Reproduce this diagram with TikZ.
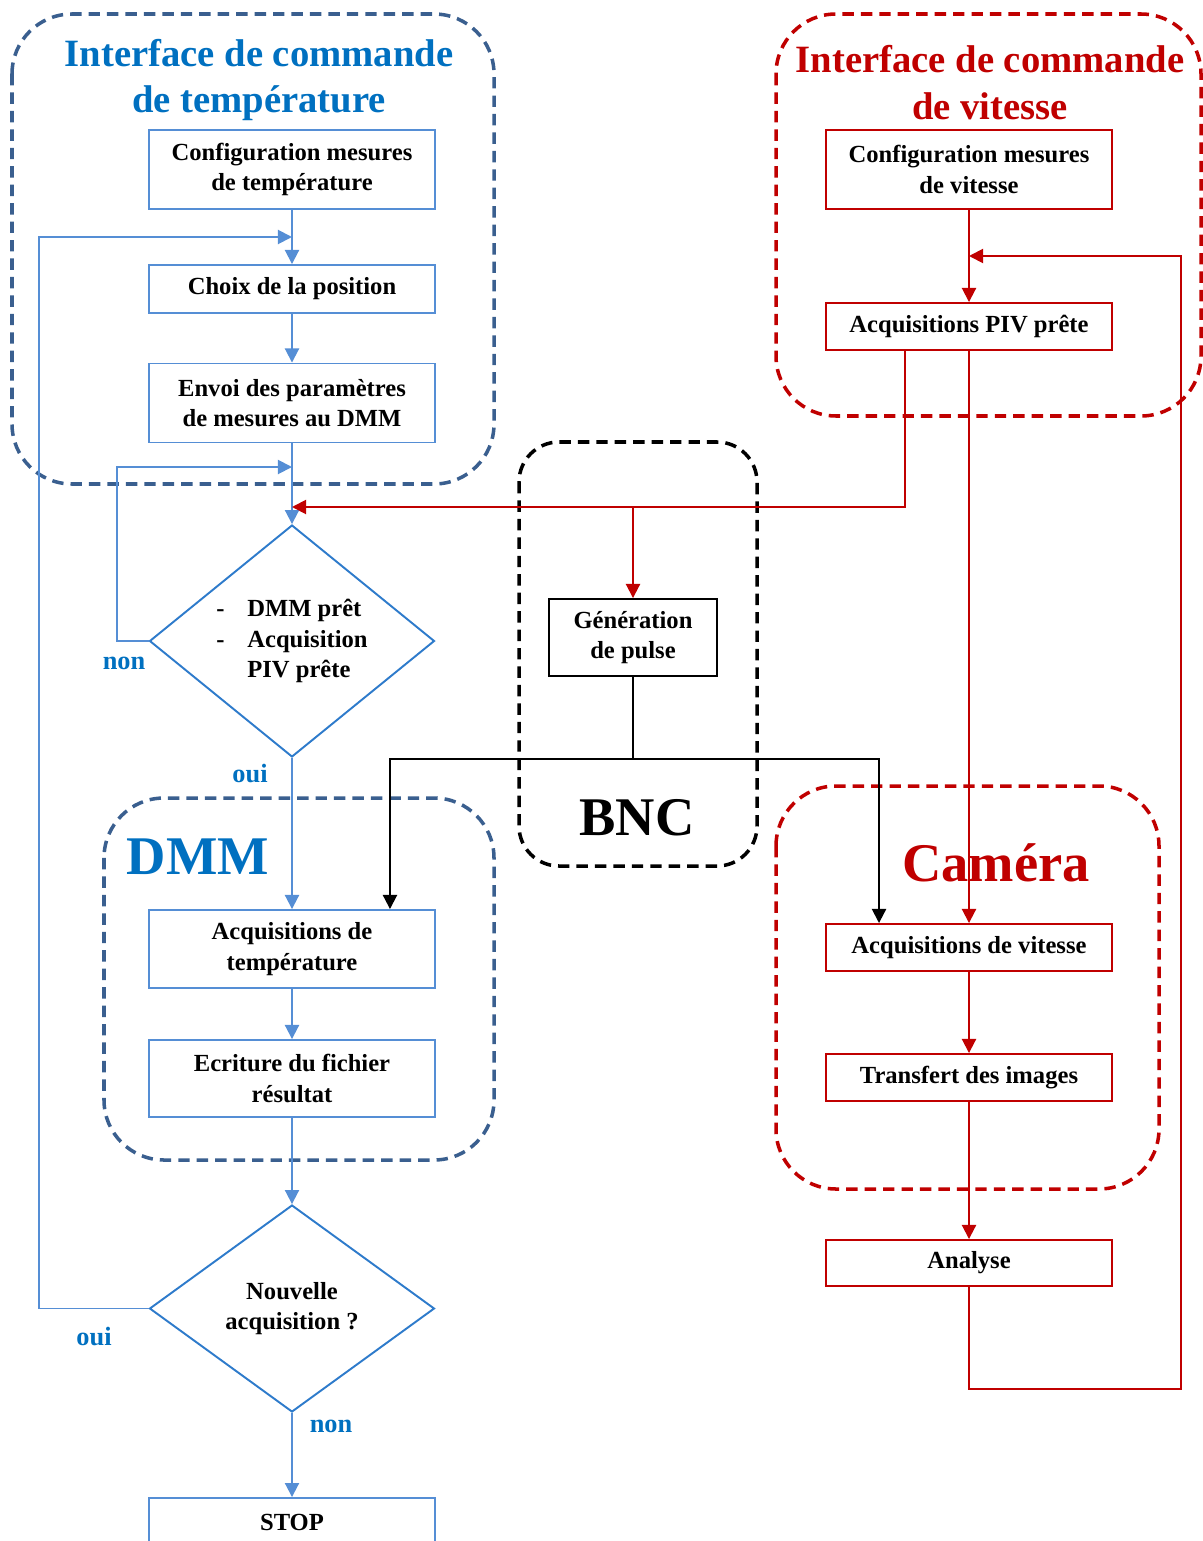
\documentclass[tikz,border=0pt]{standalone}
\usepackage{fontspec}
\setmainfont{Liberation Serif}
\usepackage{tikz}
\usetikzlibrary{arrows.meta,shapes.geometric}
\definecolor{boxblue}{HTML}{558ED5}
\definecolor{diablue}{HTML}{2E7BCB}
\definecolor{titleblue}{HTML}{0070C0}
\definecolor{grpblue}{HTML}{3A5F8F}
\definecolor{darkred}{HTML}{C00000}
\newcommand{\boxfont}{\fontsize{14}{17.5}\selectfont\bfseries}
\tikzstyle{bbox} = [draw=boxblue, line width=1.1pt, minimum width=5.72cm, inner sep=0pt, align=center, font=\boxfont]
\tikzstyle{rbox} = [draw=darkred, line width=1.1pt, minimum width=5.72cm, inner sep=0pt, align=center, font=\boxfont]
\tikzstyle{kbox} = [draw=black, line width=1.1pt, minimum width=3.36cm, minimum height=1.54cm, inner sep=0pt, align=center, font=\boxfont]
\tikzstyle{dec} = [diamond, draw=diablue, line width=1.1pt, minimum width=5.7cm, inner sep=0pt, align=center, font=\boxfont]
\tikzstyle{grp} = [line width=2pt, dash pattern=on 6.5pt off 4pt]
\tikzstyle{bline} = [draw=boxblue, line width=1.1pt, -{Triangle[length=8pt,width=8pt]}]
\tikzstyle{rline} = [draw=darkred, line width=1.1pt, -{Triangle[length=8pt,width=8pt]}]
\tikzstyle{kline} = [draw=black, line width=1.1pt, -{Triangle[length=8pt,width=8pt]}]
\tikzstyle{lbl} = [text=titleblue, font=\fontsize{15}{18}\selectfont\bfseries]
\begin{document}
\begin{tikzpicture}[x=0.02cm,y=-0.02cm]
  \useasboundingbox (0,0) rectangle (1203,1541);
  \def\colL{292}
  \def\colR{969}
  % groups
  \draw[grp, grpblue, rounded corners=1.2cm] (12,14) rectangle (494,484);
  \draw[grp, darkred, rounded corners=1.2cm] (776,14) rectangle (1201,416);
  \draw[grp, black, rounded corners=0.8cm] (519,442) rectangle (757,866);
  \draw[grp, grpblue, rounded corners=1.2cm] (104,798) rectangle (494,1160);
  \draw[grp, darkred, rounded corners=1.2cm] (776,786) rectangle (1159,1189);
  \node[text=titleblue, align=center, font=\fontsize{22}{26.7}\selectfont\bfseries] (ttemp) at (259,80) {Interface de commande\\de température};
  \node[text=darkred, align=center, font=\fontsize{22}{26.7}\selectfont\bfseries] (tvit) at (990,83) {Interface de commande\\de vitesse};
  \node[text=titleblue, font=\fontsize{31}{36}\selectfont\bfseries] (tdmm) at (198,857) {DMM};
  \node[text=black, font=\fontsize{31}{36}\selectfont\bfseries] (tbnc) at (637,818) {BNC};
  \node[text=darkred, font=\fontsize{31}{36}\selectfont\bfseries] (tcam) at (996,863) {Caméra};
  % temperature side
  \node[bbox, minimum height=1.58cm] (conft) at (\colL,169.5) {Configuration mesures\\de température};
  \node[bbox, minimum height=0.96cm] (choix) at (\colL,289) {Choix de la position};
  \node[bbox, minimum height=1.58cm] (envoi) at (\colL,403) {Envoi des paramètres\\de mesures au DMM};
  \node[dec, shape aspect=1.23, minimum height=4.64cm] (d1) at (\colL,641)
    {\begin{tabular}{@{}l@{\hspace{13pt}}l@{}}-&DMM prêt\\-&Acquisition\\&PIV prête\end{tabular}};
  \node[bbox, minimum height=1.56cm] (acqt) at (\colL,949) {Acquisitions de\\température};
  \node[bbox, minimum height=1.54cm] (ecr) at (\colL,1078.5) {Ecriture du fichier\\résultat};
  \node[dec, shape aspect=1.38, minimum height=4.14cm] (d2) at (\colL,1308.5) {Nouvelle\\acquisition ?};
  \node[bbox, minimum height=0.96cm] (stop) at (\colL,1522) {STOP};
  \coordinate (j0) at (\colL,237);
  \coordinate (j2) at (\colL,467);
  \coordinate (j1) at (\colL,507);
  \draw[bline] (conft) -- (choix);
  \draw[bline] (choix) -- (envoi);
  \draw[bline] (envoi) -- (d1);
  \draw[bline] (d1) -- (acqt);
  \draw[bline] (acqt) -- (ecr);
  \draw[bline] (ecr) -- (d2);
  \draw[bline] (d2) -- (stop);
  \draw[bline] (d2.west) -- ++(-110,0) |- (j0);
  \draw[bline] (d1.west) -- ++(-32,0) |- (j2);
  \node[lbl] (non1) at (124,663) {non};
  \node[lbl] (oui1) at (250,774) {oui};
  \node[lbl] (oui2) at (94,1337) {oui};
  \node[lbl] (non2) at (331,1426) {non};
  % speed side
  \node[rbox, minimum height=1.58cm] (confv) at (\colR,169.5) {Configuration mesures\\de vitesse};
  \node[rbox, minimum height=0.94cm] (piv) at (\colR,326.5) {Acquisitions PIV prête};
  \node[kbox] (gen) at (633,637.5) {Génération\\de pulse};
  \node[rbox, minimum height=0.94cm] (acqv) at (\colR,947.5) {Acquisitions de vitesse};
  \node[rbox, minimum height=0.94cm] (transf) at (\colR,1077.5) {Transfert des images};
  \node[rbox, minimum height=0.92cm] (ana) at (\colR,1263) {Analyse};
  \coordinate (j3) at (\colR,256);
  \coordinate (rb) at (1181,1389);
  \draw[rline] (confv) -- (piv);
  \draw[rline] (piv) -- (acqv);
  \draw[rline] (acqv) -- (transf);
  \draw[rline] (transf) -- (ana);
  \draw[rline] (ana.south) |- (rb) |- (j3);
  \draw[rline] ([xshift=-1.28cm]piv.south) |- (j1);
  \draw[rline] (gen.north |- j1) -- (gen.north);
  % pulse
  \draw[kline, -] (gen.south) -- ++(0,82) coordinate (kj);
  \draw[kline] (kj) -| ([xshift=1.96cm]acqt.north);
  \draw[kline] (kj) -| ([xshift=-1.8cm]acqv.north);
\end{tikzpicture}
\end{document}
